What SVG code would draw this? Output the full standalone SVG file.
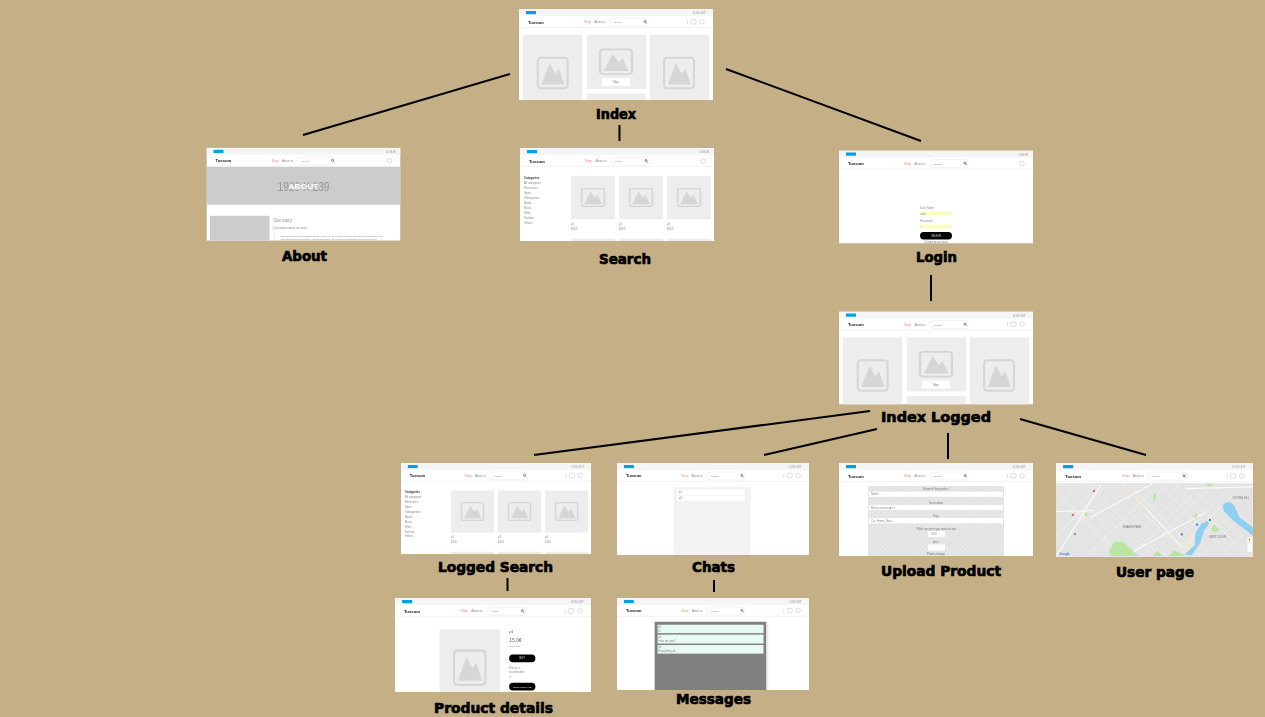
<svg xmlns="http://www.w3.org/2000/svg" width="1265" height="717" viewBox="0 0 1265 717">
<style>
.frame{fill:#fff}
.bar{fill:#f5f5f5}
.chip{fill:#00a0e6}
.rule{stroke:#eeeeee;stroke-width:.7;fill:none}
.pill{fill:#fff;stroke:#e6e6e6;stroke-width:.5}
.ico{fill:none;stroke:#cfcfcf;stroke-width:.7}
.card{fill:#ededed}
.pic{fill:none;stroke:#d6d6d6;stroke-width:2}
.mtn{fill:#d6d6d6}
.logo{font:bold 4.200px "Liberation Sans",sans-serif;fill:#111}
.shop{font:3px "Liberation Sans",sans-serif;fill:#f08a80}
.t{font:2.800px "Liberation Sans",sans-serif;fill:#8a8a8a}
.tb{font:bold 3px "Liberation Sans",sans-serif;fill:#333}
.tc{font:2.800px "Liberation Sans",sans-serif;fill:#777;text-anchor:middle}
.twc{font:2.600px "Liberation Sans",sans-serif;fill:#ddd;text-anchor:middle}
.lab{font:bold 14.500px "DejaVu Sans",sans-serif;fill:#000;stroke:#000;stroke-width:.7}
.conn{stroke:#000;stroke-width:2;fill:none;stroke-linecap:butt}
.inp{fill:#fff}
.yel{fill:#fbfdbf}
.btn{fill:#050505}
.row{fill:#e8faf3}
.road{stroke:#fafafa;stroke-width:3.500;fill:none}
.st{stroke:#f6f6f6;stroke-width:2;fill:none}
.sm{stroke:#f4f4f4;stroke-width:1.200;fill:none}
.scr{filter:url(#soft)}
</style>
<defs>
<filter id="soft" x="-2%" y="-2%" width="104%" height="104%"><feGaussianBlur stdDeviation="0.42"/></filter>
<pattern id="tex" width="5" height="5" patternUnits="userSpaceOnUse"><rect width="5" height="5" fill="#e4e4e4"/><circle cx="1.200" cy="1.200" r=".8" fill="#ececec"/><circle cx="3.700" cy="3.700" r=".8" fill="#ececec"/></pattern>
<clipPath id="clipF"><rect width="194" height="93"/></clipPath>
<clipPath id="clipI"><rect width="194" height="91"/></clipPath>
<g id="pic"><rect x="-14.500" y="-14.500" width="29" height="29" rx="3" class="pic"/><path d="M-11 11L-3-9.500L2.500 1L6-4L11.500 11Z" class="mtn"/></g>
<g id="head"><rect width="194" height="7" class="bar"/><rect x="7" y="2" width="10" height="3.200" class="chip"/><line y1="18.500" x2="194" y2="18.500" class="rule"/><text x="9" y="14.500" class="logo">Tuxsum</text><text x="65" y="14" class="shop">Shop</text><text x="75.500" y="14" class="t">About us</text><rect x="91" y="9" width="38.500" height="8" rx="4" class="pill"/><text x="95" y="14" class="t" style="font-size:2.400px">Search</text><circle cx="126" cy="12.500" r="1" fill="none" stroke="#444" stroke-width=".6"/><path d="M126.700 13.300L128 14.500" stroke="#444" stroke-width=".6"/></g>
<g id="out"><use href="#head"/><text x="174" y="5" class="t">LOG OUT</text><path d="M168.500 11V15" class="ico"/><rect x="172" y="10.500" width="5" height="4.500" rx="1" class="ico"/><circle cx="183" cy="12.700" r="2.300" class="ico"/></g>
<g id="in"><use href="#head"/><text x="179.500" y="5" class="t">LOG IN</text><circle cx="183" cy="13" r="2.300" class="ico"/></g>
<g id="indexBody">
<rect x="4" y="26" width="59" height="67" class="card"/><use href="#pic" transform="translate(33.700 64) scale(1.030 1.050)"/>
<rect x="68" y="26" width="59" height="54" class="card"/><use href="#pic" transform="translate(97 52.700) scale(1.100 .850)"/><rect x="83" y="69" width="28" height="8" fill="#fff"/><text x="97" y="74" class="tc">Map</text><rect x="68" y="84.500" width="59" height="8.500" class="card"/>
<rect x="131" y="26" width="59" height="67" class="card"/><use href="#pic" transform="translate(160 64) scale(1.030 1.050)"/>
</g>
<g id="searchBody">
<text x="4" y="30.500" class="tb">Categories</text>
<text x="4" y="36" class="t">All categories</text><text x="4" y="41" class="t">Electronics</text><text x="4" y="46" class="t">Sport</text><text x="4" y="51" class="t">Videogames</text><text x="4" y="56" class="t">Books</text><text x="4" y="61" class="t">Music</text><text x="4" y="66" class="t">Films</text><text x="4" y="71" class="t">Fashion</text><text x="4" y="75.500" class="t">Others</text>
<rect x="51" y="28" width="44" height="43" class="card"/><use href="#pic" transform="translate(73 49.500) scale(.780 .620)"/>
<rect x="99" y="28" width="44" height="43" class="card"/><use href="#pic" transform="translate(121 49.500) scale(.780 .620)"/>
<rect x="147" y="28" width="44" height="43" class="card"/><use href="#pic" transform="translate(169 49.500) scale(.780 .620)"/>
<text x="51" y="76.500" class="t">p1</text><text x="51" y="81.500" class="t">$150</text><text x="99" y="76.500" class="t">p2</text><text x="99" y="81.500" class="t">$150</text><text x="147" y="76.500" class="t">p3</text><text x="147" y="81.500" class="t">$150</text>
<rect x="51" y="90.500" width="44" height="2.500" class="card"/><rect x="99" y="90.500" width="44" height="2.500" class="card"/><rect x="147" y="90.500" width="44" height="2.500" class="card"/>
</g>
</defs>
<rect width="1265" height="717" fill="#c4af87"/>
<g id="connectors">
<path class="conn" d="M510 74L303 135"/>
<path class="conn" d="M619.500 125V141"/>
<path class="conn" d="M726 69L921 141"/>
<path class="conn" d="M931 275V301"/>
<path class="conn" d="M870 411L534 455"/>
<path class="conn" d="M877 429L764 455"/>
<path class="conn" d="M948 433V459"/>
<path class="conn" d="M1020 419L1146 455"/>
<path class="conn" d="M507.500 578V591"/>
<path class="conn" d="M714 580V592"/>
</g>
<g id="node-index"><g class="scr" transform="translate(519 9)"><g clip-path="url(#clipI)"><rect width="194" height="93" class="frame"/><use href="#out"/><use href="#indexBody"/></g></g><text class="lab" x="596" y="118.500" textLength="40" lengthAdjust="spacingAndGlyphs">Index</text></g>
<g id="node-about"><g class="scr" transform="translate(206.500 147.800)"><g clip-path="url(#clipF)"><rect width="194" height="93" class="frame"/><use href="#in"/><rect y="19" width="194" height="38" fill="#cccccc"/><text x="97" y="43" text-anchor="middle" textLength="52" lengthAdjust="spacingAndGlyphs" style="font:13px 'Liberation Sans',sans-serif;fill:#999">1920 X 239</text><text x="97" y="41.500" text-anchor="middle" textLength="30" lengthAdjust="spacingAndGlyphs" style="font:bold 8px 'Liberation Sans',sans-serif;fill:#fff">ABOUT</text><rect x="3.500" y="68" width="59.500" height="25" fill="#cccccc"/><text x="67" y="74.500" style="font:4.500px 'Liberation Sans',sans-serif;fill:#888">Our story</text><text x="67" y="81" class="t">Description about our story</text><line x1="68" y1="85" x2="68" y2="93" stroke="#ddd" stroke-width=".5"/><text x="74" y="89" class="t" style="font-size:2.300px">Somebody is just out searching things. When you were creative people how they did something. They</text><text x="74" y="92.500" class="t" style="font-size:2.300px">have something to be creative, which work about, they could see something good and connect</text></g></g><text class="lab" x="282" y="260.500" textLength="45" lengthAdjust="spacingAndGlyphs">About</text></g>
<g id="node-search"><g class="scr" transform="translate(520 148)"><g clip-path="url(#clipF)"><rect width="194" height="93" class="frame"/><use href="#in"/><use href="#searchBody"/></g></g><text class="lab" x="599" y="264" textLength="52" lengthAdjust="spacingAndGlyphs">Search</text></g>
<g id="node-login"><g class="scr" transform="translate(839 150.500)"><g clip-path="url(#clipF)"><rect width="194" height="93" class="frame"/><use href="#in"/><text x="81" y="58" class="t">User Name</text><rect x="81" y="61" width="31" height="4" class="yel"/><text x="81.500" y="64" class="t">user</text><text x="81" y="71" class="t">Password</text><rect x="81" y="74" width="31" height="4" class="yel"/><text x="81.500" y="77" class="t">•</text><rect x="81" y="81.500" width="32" height="7.500" rx="3.700" class="btn"/><text x="97" y="86" class="twc">SIGN IN</text><text x="97" y="92" class="tc">Create an account</text></g></g><text class="lab" x="916" y="261.700" textLength="41" lengthAdjust="spacingAndGlyphs">Login</text></g>
<g id="node-index-logged"><g class="scr" transform="translate(839 311.500)"><g clip-path="url(#clipF)"><rect width="194" height="93" class="frame"/><use href="#out"/><use href="#indexBody"/></g></g><text class="lab" x="881" y="421.700" textLength="110" lengthAdjust="spacingAndGlyphs">Index Logged</text></g>
<g id="node-logged-search"><g class="scr" transform="translate(401 463) scale(.98)"><g clip-path="url(#clipF)"><rect width="194" height="93" class="frame"/><use href="#out"/><use href="#searchBody"/></g></g><text class="lab" x="438" y="572" textLength="115" lengthAdjust="spacingAndGlyphs">Logged Search</text></g>
<g id="node-chats"><g class="scr" transform="translate(617 463) scale(.99)"><g clip-path="url(#clipF)"><rect width="194" height="93" class="frame"/><use href="#out"/><rect x="57" y="24" width="78" height="69" fill="#f3f3f3"/><rect x="61" y="27" width="68" height="5.300" fill="#fff"/><rect x="61" y="33" width="68" height="5.300" fill="#fff"/><text x="62.500" y="30.700" class="t">p1</text><text x="62.500" y="36.700" class="t">p2</text></g></g><text class="lab" x="692" y="571.700" textLength="43" lengthAdjust="spacingAndGlyphs">Chats</text></g>
<g id="node-upload"><g class="scr" transform="translate(839 463)"><g clip-path="url(#clipF)"><rect width="194" height="93" class="frame"/><use href="#out"/><rect x="29" y="23" width="136" height="70" fill="url(#tex)"/><text x="97" y="27" class="tc">Name of the product</text><rect x="30" y="28.700" width="134" height="5" class="inp"/><text x="32" y="32.300" class="t">Name</text><text x="97" y="40.500" class="tc">Description</text><rect x="30" y="42" width="134" height="5" class="inp"/><text x="32" y="45.700" class="t">Many size bought it</text><text x="97" y="53.500" class="tc">Tags</text><rect x="30" y="55" width="134" height="5.300" class="inp"/><text x="32" y="58.800" class="t">Car, Home, New...</text><text x="97" y="66.500" class="tc">Witch are price you want accept</text><rect x="89" y="68" width="17" height="6" class="inp"/><text x="92" y="72" class="t">USD</text><text x="97" y="80" class="tc">price</text><rect x="89" y="81.500" width="17" height="6" class="inp"/><text x="97" y="92" class="tc">Product image</text></g></g><text class="lab" x="881" y="575.700" textLength="120" lengthAdjust="spacingAndGlyphs">Upload Product</text></g>
<g id="node-user"><g class="scr" transform="translate(1056 463) scale(1.015 1.010)"><g clip-path="url(#clipF)"><rect width="194" height="93" class="frame"/><use href="#out"/><rect y="20" width="194" height="73" fill="#e4e4e4"/>
<g transform="translate(-6 -8) scale(.3333)">
<path class="sm" d="M20 100L220 300M20 120L200 300M40 85L255 300M65 85L280 300M90 85L305 300M125 85L340 300M150 85L365 300M190 85L405 300M270 85L485 300M320 85L535 300M350 85L565 300M410 85L604 280M470 85L604 220M530 85L604 160M20 150L85 85M20 210L145 85M20 265L200 85M65 300L280 85M135 300L350 85M200 300L415 85M270 300L485 85M330 300L545 85M390 300L604 85M450 300L604 146M510 300L604 206"/>
<path class="st" d="M20 110L210 300M110 85L325 300M230 85L445 300M370 85L585 300M20 240L170 85M110 300L290 120M240 300L420 120M360 300L540 120"/>
<path class="road" d="M215 85L410 295M20 300L150 90M120 185L305 85M240 290L460 170M20 168L130 165M400 100L600 95"/>
<path d="M215 85L285 160" stroke="#f6e6bd" stroke-width="3.500" fill="none"/>
<path d="M190 258L215 257L262 300H180L175 285Z" fill="#b9e6a0"/><path d="M305 300L318 285L332 300Z" fill="#b9e6a0"/><path d="M352 300L368 283L402 300Z" fill="#b9e6a0"/><path d="M476 225L486 205L500 222L490 230Z" fill="#b9e6a0"/><path d="M305 115H313V135H305Z" fill="#b9e6a0"/><path d="M460 85H485L470 95Z" fill="#b9e6a0"/><path d="M104 172H111V182H104Z" fill="#b9e6a0"/><path d="M425 180L440 170L430 190Z" fill="#b9e6a0"/>
<path d="M385 265L425 235V298H400Z" fill="#ece8e0"/>
<path d="M510 150Q525 130 545 150L560 185L604 218V244L585 228L545 198L515 168Z" fill="#8fd0f2"/>
<path d="M397 296L428 268L430 232L447 205L465 195L470 205L455 225L445 260L420 298Z" fill="#8fd0f2"/>
<circle cx="130" cy="107" r="3.500" fill="#e8655a"/><circle cx="68" cy="178" r="3.500" fill="#e8655a"/><circle cx="435" cy="207" r="3.500" fill="#2f8fe0"/><circle cx="390" cy="236" r="3.500" fill="#2f8fe0"/><circle cx="473" cy="193" r="3.500" fill="#1fa05a"/><circle cx="74" cy="235" r="3.500" fill="#7aa"/>
<rect x="584" y="244" width="14" height="15" fill="#fff"/><rect x="588" y="247" width="4" height="9" fill="#e8a820"/><rect x="584" y="262" width="14" height="26" fill="#fff"/>
<text x="215" y="218" style="font:8px 'Liberation Sans',sans-serif;fill:#777">SHAKER PARK</text><text x="470" y="246" style="font:8px 'Liberation Sans',sans-serif;fill:#777">WEST DIXON</text><text x="540" y="132" style="font:8px 'Liberation Sans',sans-serif;fill:#777">CROWN HILL</text><text x="28" y="298" style="font:bold 9px 'Liberation Sans',sans-serif;fill:#4a7fd6">Google</text>
</g></g></g><text class="lab" x="1116" y="576.700" textLength="78" lengthAdjust="spacingAndGlyphs">User page</text></g>
<g id="node-product"><g class="scr" transform="translate(395 598) scale(1.010)"><g clip-path="url(#clipF)"><rect width="194" height="93" class="frame"/><use href="#out"/><rect x="44" y="31" width="60" height="62" class="card"/><use href="#pic" transform="translate(74 69) scale(1.070 1.170)"/><text x="113" y="35" style="font:4px 'Liberation Sans',sans-serif;fill:#666">p1</text><text x="113" y="44" style="font:5px 'Liberation Sans',sans-serif;fill:#666">15.0€</text><text x="113" y="49" class="t" style="font-size:2.200px">Description</text><rect x="113" y="56" width="26" height="7.500" rx="3.700" class="btn"/><text x="126" y="60.800" class="twc">BUY</text><text x="113" y="70.500" class="t">Precio a</text><text x="113" y="74" class="t">counteroffer:</text><text x="113" y="79" class="t">1</text><rect x="113" y="84" width="26" height="7.500" rx="3.700" class="btn"/><text x="126" y="88.700" class="twc" style="font-size:2.300px">SEND MESSAGE</text></g></g><text class="lab" x="434" y="713.300" textLength="119" lengthAdjust="spacingAndGlyphs">Product details</text></g>
<g id="node-messages"><g class="scr" transform="translate(617 598) scale(.99)"><g clip-path="url(#clipF)"><rect width="194" height="93" class="frame"/><use href="#out"/><rect x="38" y="24" width="113" height="69" fill="#808080"/><rect x="151" y="24" width="2" height="69" fill="#eee"/><rect x="41" y="27" width="107" height="8.500" class="row"/><rect x="41" y="37" width="107" height="9" class="row"/><rect x="41" y="47.500" width="107" height="8.700" class="row"/><text x="42" y="30" class="t">p1</text><text x="42" y="34" class="t">hi</text><text x="42" y="40.500" class="t">p1</text><text x="42" y="44.500" class="t">How are you?</text><text x="42" y="51" class="t">p1</text><text x="42" y="55" class="t">Everything ok</text></g></g><text class="lab" x="676" y="704" textLength="75" lengthAdjust="spacingAndGlyphs">Messages</text></g>
</svg>
